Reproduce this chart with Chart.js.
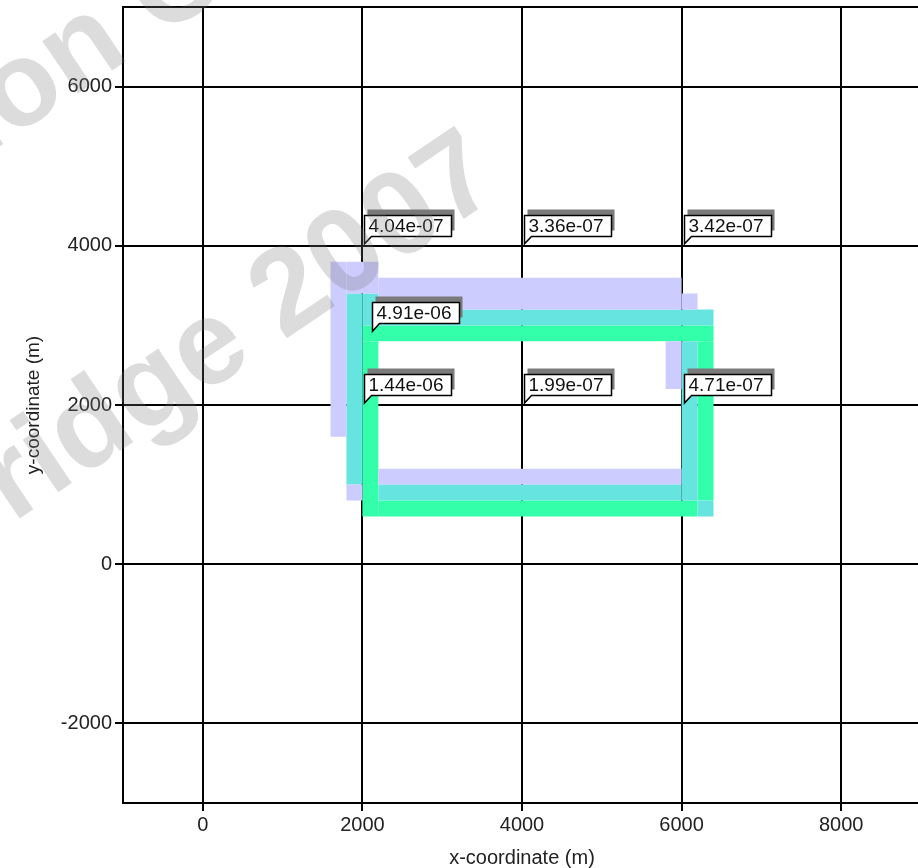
<!DOCTYPE html>
<html>
<head>
<meta charset="utf-8">
<script src="https://cdn.jsdelivr.net/npm/chart.js@4.4.1/dist/chart.umd.min.js"></script>
<style>
  html, body { margin: 0; padding: 0; background: #fff; overflow: hidden; }
  canvas { display: block; }
</style>
</head>
<body>
<canvas id="plume" width="925" height="868"></canvas>
<script>
// axis ranges and ticks (m)
const xRange = [-1000, 9000];
const yRange = [-3000, 7000];
const xTicks = [-1000, 0, 2000, 4000, 6000, 8000, 9000];
const yTicks = [-3000, -2000, 0, 2000, 4000, 6000, 7000];

// coloured cells, [x1, x2, y1, y2] in metres
const purpleCells = [
    [1600, 1800, 1600, 3800],
    [1800, 2200, 3400, 3800],
    [2200, 6000, 3200, 3600],
    [6000, 6200, 3200, 3400],
    [5800, 6000, 2200, 2800],
    [2200, 6000, 1000, 1200],
    [1800, 2000, 800, 1000]
];
const cyanCells = [
    [1800, 2000, 1000, 3400],
    [2000, 2200, 3000, 3400],
    [2200, 6400, 3000, 3200],
    [6000, 6200, 800, 2800],
    [2200, 6000, 800, 1000],
    [6200, 6400, 600, 800]
];
const greenCells = [
    [2000, 2200, 600, 2800],
    [2000, 6400, 2800, 3000],
    [6200, 6400, 800, 2800],
    [2200, 6200, 600, 800]
];

// observation points and their values
const obsX = [2000, 4000, 6000, 2100, 2000, 4000, 6000];
const obsY = [4000, 4000, 4000, 2900, 2000, 2000, 2000];
const obsText = ['4.04e-07', '3.36e-07', '3.42e-07', '4.91e-06', '1.44e-06', '1.99e-07', '4.71e-07'];

function cellDataset(c, color) {
    return {
        data: [
            {x: c[0], y: c[2]}, {x: c[1], y: c[2]},
            {x: c[1], y: c[3]}, {x: c[0], y: c[3]}, {x: c[0], y: c[2]}
        ],
        showLine: true,
        fill: 'shape',
        backgroundColor: color,
        borderColor: 'rgba(0,0,0,0)',
        borderWidth: 0,
        pointRadius: 0,
        pointHoverRadius: 0
    };
}

const datasets = [];
purpleCells.forEach(c => datasets.push(cellDataset(c, '#ccccff')));
cyanCells.forEach(c => datasets.push(cellDataset(c, '#66e5e0')));
greenCells.forEach(c => datasets.push(cellDataset(c, '#33ffaa')));

const calloutPlugin = {
    id: 'callouts',
    afterDraw(chart) {
        const ctx = chart.ctx;
        const xs = chart.scales.x, ys = chart.scales.y;
        ctx.save();
        ctx.font = '19px "Liberation Sans", Arial, sans-serif';
        obsText.forEach((t, i) => {
            const px = xs.getPixelForValue(obsX[i]);
            const py = ys.getPixelForValue(obsY[i]);
            const left = Math.round(px) + 2.5;
            const bottom = Math.round(py) - 9.5;
            const top = bottom - 21;
            const right = left + ctx.measureText(t).width + 12;
            // shadow
            ctx.fillStyle = '#7a7a7a';
            ctx.fillRect(left + 3, top - 6, right - left, bottom - top);
            // balloon
            ctx.beginPath();
            ctx.moveTo(left, top);
            ctx.lineTo(left, py - 2);
            ctx.lineTo(left + 7, bottom);
            ctx.lineTo(right, bottom);
            ctx.lineTo(right, top);
            ctx.closePath();
            ctx.fillStyle = '#fff';
            ctx.fill();
            ctx.lineWidth = 1.5;
            ctx.strokeStyle = '#000';
            ctx.stroke();
            ctx.fillStyle = '#111';
            ctx.textBaseline = 'middle';
            ctx.textAlign = 'left';
            ctx.fillText(t, left + 4, (top + bottom) / 2 + 1);
        });
        ctx.restore();
    }
};

const watermarkPlugin = {
    id: 'watermark',
    afterDraw(chart) {
        const ctx = chart.ctx;
        const size = 120;
        const ang = -34 * Math.PI / 180;
        ctx.save();
        ctx.font = 'bold ' + size + 'px "Liberation Sans", Arial, sans-serif';
        ctx.fillStyle = 'rgba(120,120,120,0.26)';
        ctx.textAlign = 'left';
        ctx.textBaseline = 'alphabetic';
        // line 1, anchored on the "n"
        ctx.save();
        ctx.translate(84, 52);
        ctx.rotate(ang);
        let pre = ctx.measureText('Evaluatio').width + ctx.measureText('n').width / 2;
        ctx.fillText('Evaluation Copy', -pre, 0.26 * size);
        ctx.restore();
        // line 2, anchored on the "2"
        ctx.save();
        ctx.translate(287, 286);
        ctx.rotate(ang);
        pre = ctx.measureText('Cambridge ').width + ctx.measureText('2').width / 2;
        ctx.fillText('Cambridge 2007', -pre, 0.36 * size);
        ctx.restore();
        ctx.restore();
    }
};

function edgeTick(c, range) {
    return c.tick && (c.tick.value === range[0] || c.tick.value === range[1]);
}

new Chart(document.getElementById('plume'), {
    type: 'scatter',
    data: { datasets: datasets },
    options: {
        responsive: false,
        animation: false,
        events: [],
        layout: { padding: { top: 7, right: 4, bottom: 0, left: 0 } },
        plugins: {
            legend: { display: false },
            tooltip: { enabled: false }
        },
        scales: {
            x: {
                type: 'linear',
                min: xRange[0],
                max: xRange[1],
                z: 1,
                afterBuildTicks: s => { s.ticks = xTicks.map(v => ({ value: v })); },
                afterFit: s => { s.height = 65; s.paddingLeft = 0; s.paddingRight = 0; },
                ticks: {
                    autoSkip: false,
                    maxRotation: 0,
                    padding: 2,
                    color: '#222',
                    font: { family: '"Liberation Sans", Arial, sans-serif', size: 20, lineHeight: 1.2 },
                    callback: v => (v === xRange[0] || v === xRange[1]) ? '' : String(v)
                },
                grid: {
                    color: '#000',
                    lineWidth: 2,
                    tickLength: 8,
                    tickColor: c => edgeTick(c, xRange) ? 'rgba(0,0,0,0)' : '#000'
                },
                border: { display: true, color: '#000', width: 2 },
                title: {
                    display: true,
                    text: 'x-coordinate (m)',
                    color: '#222',
                    font: { family: '"Liberation Sans", Arial, sans-serif', size: 20, lineHeight: 1 },
                    padding: { top: 0, bottom: 0 }
                }
            },
            y: {
                type: 'linear',
                min: yRange[0],
                max: yRange[1],
                z: 1,
                afterBuildTicks: s => { s.ticks = yTicks.map(v => ({ value: v })); },
                afterFit: s => { s.width = 123; s.paddingTop = 0; s.paddingBottom = 0; },
                ticks: {
                    autoSkip: false,
                    padding: 3,
                    color: '#222',
                    font: { family: '"Liberation Sans", Arial, sans-serif', size: 20, lineHeight: 1.2 },
                    callback: v => (v === yRange[0] || v === yRange[1]) ? '' : String(v)
                },
                grid: {
                    color: '#000',
                    lineWidth: 2,
                    tickLength: 8,
                    tickColor: c => edgeTick(c, yRange) ? 'rgba(0,0,0,0)' : '#000'
                },
                border: { display: true, color: '#000', width: 2 },
                title: {
                    display: true,
                    text: 'y-coordinate (m)',
                    color: '#222',
                    font: { family: '"Liberation Sans", Arial, sans-serif', size: 19, lineHeight: 1 },
                    padding: { top: 24, bottom: 0 }
                }
            }
        }
    },
    plugins: [calloutPlugin, watermarkPlugin]
});
</script>
</body>
</html>
